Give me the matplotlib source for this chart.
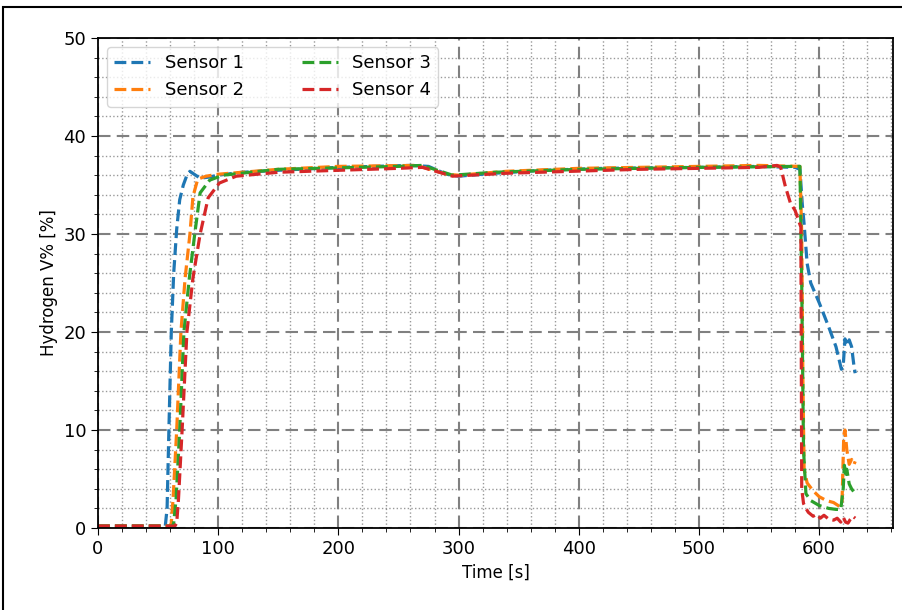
import matplotlib
matplotlib.use('Agg')
import matplotlib.pyplot as plt
from matplotlib.patches import Rectangle
from matplotlib.ticker import MultipleLocator

labels = ['Sensor 1', 'Sensor 2', 'Sensor 3', 'Sensor 4']
colors = ['tab:blue', 'tab:orange', 'tab:green', 'tab:red']

# sensor 1 (blue)
t1 = [0, 56, 57.5, 59, 61, 63, 65.5, 68, 71, 74, 76.5, 80, 85, 92, 100, 120, 150, 200,
      260, 275, 290, 300, 330, 370, 420, 500, 550, 580, 584, 586, 587.5, 590, 593, 600,
      608, 614, 618.5, 620, 621.5, 623, 625, 627, 629, 630]
v1 = [0.2, 0.2, 2, 10, 20, 26, 30.5, 33.5, 35, 36, 36.4, 36.1, 35.7, 35.8, 36, 36.3, 36.5, 36.8,
      37, 36.9, 36.1, 35.9, 36.2, 36.5, 36.7, 36.8, 36.9, 36.8, 36.6, 33, 31, 27, 25, 23,
      20.5, 18.5, 16.2, 16.5, 19.3, 18.6, 19.2, 18.5, 16.5, 15.8]

# sensor 2 (orange)
t2 = [0, 60, 61, 62.5, 65.5, 69, 72.5, 76.5, 79, 83, 90, 100, 150, 200, 265, 290, 300, 340,
      400, 500, 550, 584, 585.5, 586.5, 587.5, 590, 595, 600, 606, 612, 617, 619, 620.5,
      621.5, 623, 625, 627, 629, 630]
v2 = [0.2, 0.2, 0.5, 3, 10, 20, 25.5, 30, 33.8, 35.6, 35.9, 36.1, 36.6, 36.9, 37, 36.1, 36, 36.4,
      36.7, 36.9, 37, 36.9, 30, 15, 6, 4.6, 3.8, 3.2, 2.8, 2.6, 2.2, 2.5, 9.5,
      10, 8, 6.5, 7, 6.5, 6.8]

# sensor 3 (green)
t3 = [0, 62, 63, 65, 68, 71.5, 76, 80.5, 85, 93, 104, 150, 250, 270, 295, 330, 400, 500,
      580, 584, 585.5, 587, 589, 593, 600, 608, 614, 618, 620, 621, 622, 623, 625, 627, 630]
v3 = [0.2, 0.2, 0.5, 3, 10, 20, 25.5, 30, 34.2, 35.5, 36, 36.6, 36.9, 37, 36, 36.3, 36.6, 36.8,
      36.9, 36.9, 25, 8, 3.5, 2.8, 2.3, 2, 1.9, 1.9, 4, 6.4, 5.5, 6, 4.5, 4, 3.5]

# sensor 4 (red)
t4 = [0, 64, 65.5, 67, 70, 74, 79, 85, 91.7, 101, 115, 150, 250, 270, 295, 340, 450, 550,
      565, 568, 572, 576, 580, 584.8, 585.5, 587, 589, 591, 595, 598, 601, 604, 608, 612,
      615, 618, 620, 622, 624, 626, 628, 630]
v4 = [0.2, 0.2, 0.5, 3, 10, 20, 25.5, 30, 33.7, 35.2, 35.9, 36.3, 36.7, 36.8, 35.9, 36.2, 36.6, 36.8,
      37, 36.8, 34.8, 33.2, 32.4, 30.7, 4, 2.5, 2, 1.6, 1.2, 1.4, 1.0, 1.3, 0.9, 0.8,
      1.0, 0.6, 1.1, 0.6, 0.5, 0.9, 1.2, 1.0]

times = [t1, t2, t3, t4]
values = [v1, v2, v3, v4]

fig = plt.figure(figsize=(9.03, 6.1), dpi=100)
ax = fig.add_axes([0.1085, 0.1344, 0.8805, 0.8033])

for t, v, c, lab in zip(times, values, colors, labels):
    ax.plot(t, v, '--', color=c, lw=2.3, label=lab)

ax.set_xlim(left=0)
ax.set_ylim(0, 50)
ax.xaxis.set_major_locator(MultipleLocator(100))
ax.xaxis.set_minor_locator(MultipleLocator(20))
ax.yaxis.set_major_locator(MultipleLocator(10))
ax.yaxis.set_minor_locator(MultipleLocator(2))
ax.grid(which='major', linestyle='--', color='gray', lw=1.5, dashes=(6, 3))
ax.grid(which='minor', linestyle=':', color='gray', lw=1.0, alpha=0.8)
ax.tick_params(which='major', labelsize=13, length=5)
ax.tick_params(which='minor', length=3)
for s in ax.spines.values():
    s.set_linewidth(1.3)

ax.set_xlabel('Time [s]', fontsize=12)
ax.set_ylabel('Hydrogen V% [%]', fontsize=12)
ax.legend(loc='upper left', ncol=2, fontsize=13, columnspacing=3.2)

# frame round the figure
fig.patches.append(Rectangle((3 / 903, -0.05), 1.2, 1 - 7 / 610 + 0.05, transform=fig.transFigure,
                             fill=False, ec='black', lw=1.5))

fig.savefig('out.png', dpi=100)
